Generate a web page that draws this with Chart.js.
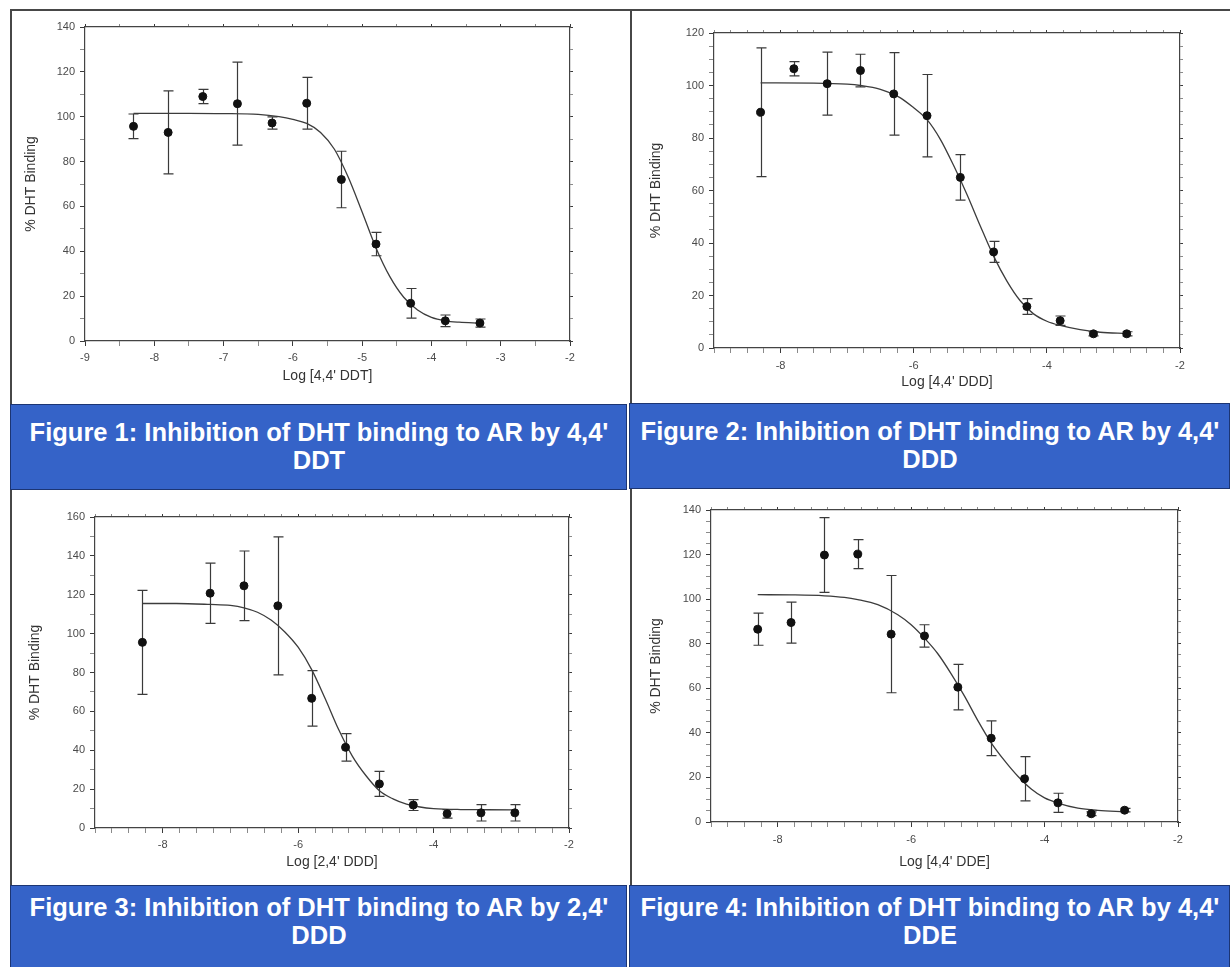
<!DOCTYPE html>
<html>
<head>
<meta charset="utf-8">
<script src="https://cdn.jsdelivr.net/npm/chart.js@4.4.1/dist/chart.umd.min.js"></script>
<style>
  html, body { margin: 0; padding: 0; background: #fff; }
  body { width: 1230px; height: 967px; position: relative; overflow: hidden; font-family: 'Liberation Sans', Arial, sans-serif; }
  .rule { position: absolute; background: #474747; }
  .cap { position: absolute; background: #3563c8; border: 1px solid #1c3573; box-sizing: border-box; color: #fff; font-weight: bold; font-size: 25px; line-height: 28px; overflow: hidden; }
  .cap span { display: block; width: 800px; text-align: center; white-space: nowrap; transform: scaleX(1.02); transform-origin: center; }
  canvas { position: absolute; }
</style>
</head>
<body>

<div class="rule" style="left:10px; top:9px; width:1220px; height:2px"></div>
<div class="rule" style="left:10px; top:9px; width:2px; height:958px"></div>
<div class="rule" style="left:630px; top:9px; width:2px; height:958px"></div>

<canvas id="c1" width="615" height="391" style="left:12px; top:12px"></canvas>
<canvas id="c2" width="597" height="391" style="left:633px; top:12px"></canvas>
<canvas id="c3" width="615" height="391" style="left:12px; top:492px"></canvas>
<canvas id="c4" width="597" height="391" style="left:633px; top:492px"></canvas>

<div class="cap" style="left:10px; top:404px; width:617px; height:86px; padding-top:13px">
  <span style="margin-left:-92px">Figure 1: Inhibition of DHT binding to AR by 4,4'<br>DDT</span></div>
<div class="cap" style="left:629px; top:403px; width:601px; height:86px; padding-top:13px">
  <span style="margin-left:-100px">Figure 2: Inhibition of DHT binding to AR by 4,4'<br>DDD</span></div>
<div class="cap" style="left:10px; top:885px; width:617px; height:84px; padding-top:7px">
  <span style="margin-left:-92px">Figure 3: Inhibition of DHT binding to AR by 2,4'<br>DDD</span></div>
<div class="cap" style="left:629px; top:885px; width:601px; height:84px; padding-top:7px">
  <span style="margin-left:-100px">Figure 4: Inhibition of DHT binding to AR by 4,4'<br>DDE</span></div>

<script>
// --- data (log molar concentration vs % DHT binding, mean +/- error)
const x1 = [-8.3, -7.8, -7.3, -6.8, -6.3, -5.8, -5.3, -4.8, -4.3, -3.8, -3.3]
const y1 = [95.7, 93.0, 109.0, 105.8, 97.2, 106.0, 72.0, 43.2, 16.8, 9.0, 8.0]
const err1 = [5.5, 18.5, 3.2, 18.5, 2.7, 11.5, 12.6, 5.2, 6.6, 2.6, 1.8]
const curveX1 = [-8.3, -7.5, -7.0, -6.5, -6.2, -6.0, -5.8, -5.6, -5.4, -5.2, -5.0, -4.8, -4.6, -4.4, -4.2, -4.0, -3.8, -3.6, -3.3]
const curveY1 = [101.5, 101.5, 101.4, 101.0, 100.0, 98.8, 97.0, 93.0, 85.5, 73.0, 57.5, 41.5, 28.7, 19.5, 13.8, 10.5, 9.0, 8.4, 8.0]

const x2 = [-8.3, -7.8, -7.3, -6.8, -6.3, -5.8, -5.3, -4.8, -4.3, -3.8, -3.3, -2.8]
const y2 = [89.8, 106.4, 100.7, 105.7, 96.8, 88.5, 65.0, 36.6, 15.8, 10.4, 5.4, 5.4]
const err2 = [24.5, 2.7, 12.0, 6.2, 15.7, 15.7, 8.7, 4.0, 3.0, 1.8, 0.8, 0.8]
const curveX2 = [-8.3, -7.5, -7.0, -6.8, -6.5, -6.2, -6.0, -5.8, -5.6, -5.4, -5.2, -5.0, -4.8, -4.6, -4.4, -4.2, -4.0, -3.8, -3.5, -3.2, -2.8]
const curveY2 = [101.0, 100.9, 100.5, 100.0, 98.5, 95.3, 91.5, 87.0, 79.5, 69.5, 58.5, 46.5, 35.0, 25.5, 18.0, 13.0, 10.2, 8.6, 7.0, 6.0, 5.6]

const x3 = [-8.3, -7.3, -6.8, -6.3, -5.8, -5.3, -4.8, -4.3, -3.8, -3.3, -2.8]
const y3 = [95.5, 120.8, 124.6, 114.3, 66.7, 41.5, 22.7, 11.8, 7.3, 7.8, 7.8]
const err3 = [26.8, 15.5, 17.9, 35.5, 14.3, 7.1, 6.4, 2.8, 2.2, 4.2, 4.2]
const curveX3 = [-8.3, -7.8, -7.3, -7.0, -6.8, -6.6, -6.4, -6.2, -6.0, -5.8, -5.6, -5.4, -5.2, -5.0, -4.8, -4.6, -4.4, -4.2, -4.0, -3.6, -3.2, -2.8]
const curveY3 = [115.5, 115.5, 115.0, 114.5, 113.3, 111.0, 107.0, 101.0, 93.0, 81.5, 66.5, 50.5, 37.0, 27.0, 19.2, 15.0, 12.3, 10.8, 10.0, 9.5, 9.4, 9.3]

const x4 = [-8.3, -7.8, -7.3, -6.8, -6.3, -5.8, -5.3, -4.8, -4.3, -3.8, -3.3, -2.8]
const y4 = [86.5, 89.5, 119.8, 120.2, 84.3, 83.5, 60.5, 37.6, 19.4, 8.6, 3.7, 5.3]
const err4 = [7.2, 9.2, 16.8, 6.5, 26.3, 5.0, 10.2, 7.8, 9.9, 4.3, 0.8, 0.8]
const curveX4 = [-8.3, -7.8, -7.3, -7.0, -6.8, -6.5, -6.2, -6.0, -5.8, -5.6, -5.4, -5.2, -5.0, -4.8, -4.6, -4.4, -4.2, -4.0, -3.8, -3.5, -3.2, -2.8]
const curveY4 = [102.0, 101.9, 101.5, 100.8, 99.8, 97.5, 93.0, 88.5, 82.5, 75.5, 66.5, 56.5, 45.5, 35.5, 27.5, 20.5, 14.8, 10.8, 8.5, 6.2, 5.2, 4.6]

// tick labels
const xLabelsA = [-9, -8, -7, -6, -5, -4, -3, -2]
const xLabelsB = [-8, -6, -4, -2]
const yLabels140 = [0, 20, 40, 60, 80, 100, 120, 140]
const yLabels120 = [0, 20, 40, 60, 80, 100, 120]
const yLabels160 = [0, 20, 40, 60, 80, 100, 120, 140, 160]

const yTitle = '% DHT Binding'
const FONT = "'Liberation Sans', Arial, sans-serif"


const errorBars = {
	id:'errorBars',
	beforeDatasetsDraw(chart){
		const ds = chart.data.datasets[1]
		const xs = chart.scales.x, ys = chart.scales.y
		const c = chart.ctx
		c.save()
		c.strokeStyle = '#3a3a3a'
		c.lineWidth = 1.2
		for(const p of ds.data){
			const px = Math.round(xs.getPixelForValue(p.x)) + 0.5
			const top = ys.getPixelForValue(p.y + p.e)
			const bot = ys.getPixelForValue(p.y - p.e)
			c.beginPath()
			c.moveTo(px, top); c.lineTo(px, bot)
			c.moveTo(px - 5, top); c.lineTo(px + 5, top)
			c.moveTo(px - 5, bot); c.lineTo(px + 5, bot)
			c.stroke()
		}
		c.restore()
	}
}


function makeChart(id, o){
	const points = o.x.map((v, i) => ({ x:v, y:o.y[i], e:o.err[i] }))
	const curve = o.cx.map((v, i) => ({ x:v, y:o.cy[i] }))
	const majorX = c => c.tick && o.xLabels.includes(c.tick.value) ? '#3a3a3a' : '#8a8a8a'
	const majorY = c => c.tick && o.yLabels.includes(c.tick.value) ? '#3a3a3a' : '#8a8a8a'
	const frame = { display:true, color:'#444', width:1.2 }

	return new Chart(document.getElementById(id), {
		type:'scatter',
		data:{
			datasets:[
				{ type:'line', data:curve, borderColor:'#3c3c3c', borderWidth:1.3, pointRadius:0, cubicInterpolationMode:'monotone', fill:false, xAxisID:'x', yAxisID:'y', order:2 },
				{ data:points, backgroundColor:'#111', borderColor:'#111', pointRadius:4, xAxisID:'x', yAxisID:'y', order:1 }
			]
		},
		options:{
			responsive:false,
			animation:false,
			layout:{ padding:o.pad },
			plugins:{ legend:{ display:false }, tooltip:{ enabled:false } },
			scales:{
				x:{
					type:'linear', position:'bottom', min:-9, max:-2,
					ticks:{ stepSize:o.xStep, autoSkip:false, maxRotation:0, color:'#4a4a4a', padding:o.xTickPad, font:{ family:FONT, size:11 },
						callback:v => o.xLabels.includes(v) ? String(v) : '' },
					grid:{ display:true, drawOnChartArea:false, drawTicks:true, tickLength:5, tickColor:majorX },
					border:frame,
					title:{ display:true, text:o.xTitle, color:'#333', padding:0, font:{ family:FONT, size:14 } },
					afterFit:s => { s.height = o.xH }
				},
				x2:{
					type:'linear', position:'top', min:-9, max:-2,
					ticks:{ display:false, stepSize:o.xStep, autoSkip:false },
					grid:{ drawOnChartArea:false, tickLength:3, tickColor:majorX },
					border:frame,
					afterFit:s => { s.height = 4 }
				},
				y:{
					type:'linear', position:'left', min:0, max:o.yMax,
					ticks:{ stepSize:o.yStep, autoSkip:false, color:'#4a4a4a', padding:5, font:{ family:FONT, size:11 },
						callback:v => o.yLabels.includes(v) ? String(v) : '' },
					grid:{ display:true, drawOnChartArea:false, drawTicks:true, tickLength:5, tickColor:majorY },
					border:frame,
					title:{ display:true, text:yTitle, color:'#333', padding:0, font:{ family:FONT, size:14 } },
					afterFit:s => { s.width = o.yW }
				},
				y2:{
					type:'linear', position:'right', min:0, max:o.yMax,
					ticks:{ display:false, stepSize:o.yStep, autoSkip:false },
					grid:{ drawOnChartArea:false, tickLength:3, tickColor:majorY },
					border:frame,
					afterFit:s => { s.width = 4 }
				}
			}
		},
		plugins:[errorBars]
	})
}


makeChart('c1', {
	x:x1, y:y1, err:err1, cx:curveX1, cy:curveY1,
	xLabels:xLabelsA, xStep:0.5, yLabels:yLabels140, yStep:10, yMax:140,
	xTitle:"Log [4,4' DDT]",
	pad:{ left:11, top:11, right:53, bottom:18 }, yW:62, xH:44, xTickPad:5
})

makeChart('c2', {
	x:x2, y:y2, err:err2, cx:curveX2, cy:curveY2,
	xLabels:xLabelsB, xStep:0.25, yLabels:yLabels120, yStep:5, yMax:120,
	xTitle:"Log [4,4' DDD]",
	pad:{ left:15, top:17, right:46, bottom:12 }, yW:66, xH:43, xTickPad:6
})

makeChart('c3', {
	x:x3, y:y3, err:err3, cx:curveX3, cy:curveY3,
	xLabels:xLabelsB, xStep:0.25, yLabels:yLabels160, yStep:10, yMax:160,
	xTitle:"Log [2,4' DDD]",
	pad:{ left:15, top:21, right:54, bottom:12 }, yW:68, xH:43, xTickPad:5
})

makeChart('c4', {
	x:x4, y:y4, err:err4, cx:curveX4, cy:curveY4,
	xLabels:xLabelsB, xStep:0.25, yLabels:yLabels140, yStep:5, yMax:140,
	xTitle:"Log [4,4' DDE]",
	pad:{ left:15, top:14, right:48, bottom:12 }, yW:63, xH:49, xTickPad:6
})
</script>
</body>
</html>
